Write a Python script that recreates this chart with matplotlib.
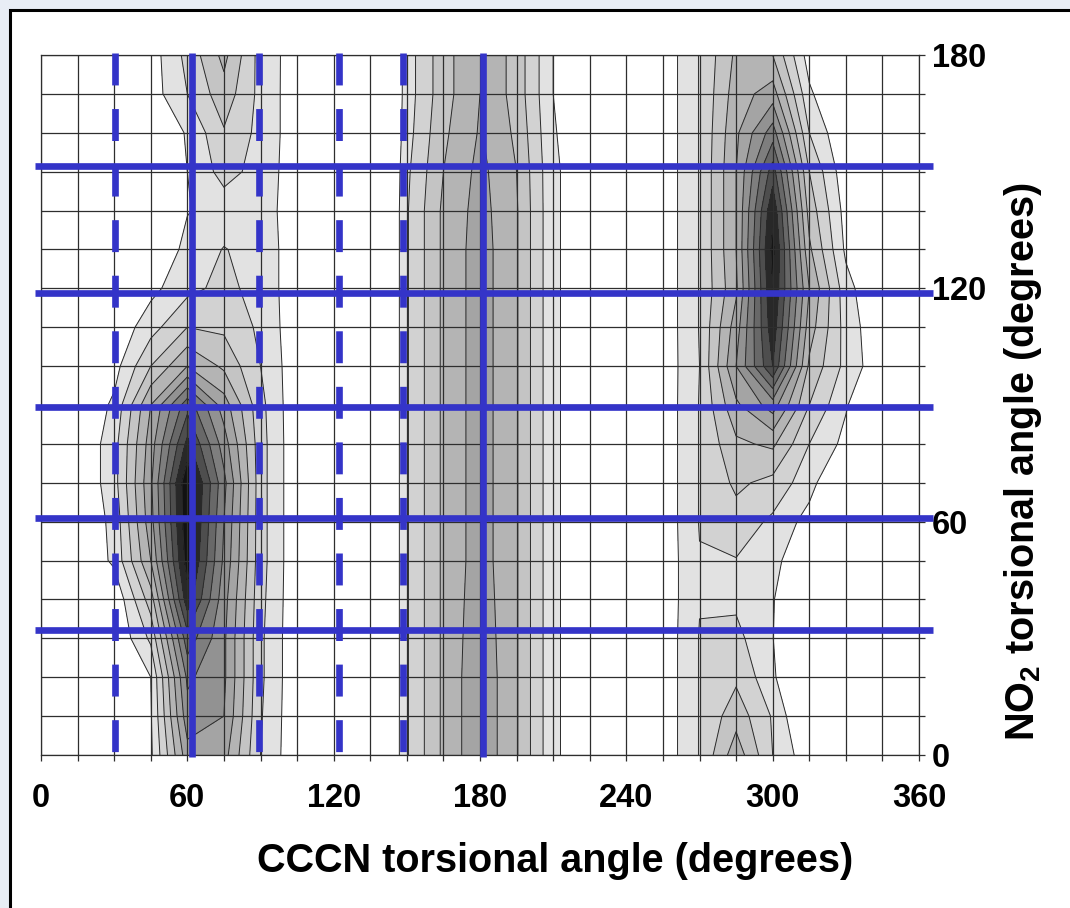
"""
CCCN / NO2 torsional angle population map, redrawn as a grey contour chart
with the blue guide lines laid over it.
"""

import matplotlib
matplotlib.use("Agg")
import matplotlib.pyplot as plt
from matplotlib.patches import Rectangle

plt.rcParams["font.family"] = ["Liberation Sans", "DejaVu Sans"]
plt.rcParams["font.weight"] = "bold"
plt.rcParams["mathtext.default"] = "regular"
plt.rcParams["lines.scale_dashes"] = False

FIG_W, FIG_H = 1070, 908

# grid of the sampled angles (CCCN every 15 deg, NO2 every 10 deg)
cccn_deg = [0, 15, 30, 45, 60, 75, 90, 105, 120, 135, 150, 165, 180,
            195, 210, 225, 240, 255, 270, 285, 300, 315, 330, 345, 360]
no2_deg = [0, 10, 20, 30, 40, 50, 60, 70, 80, 90,
           100, 110, 120, 130, 140, 150, 160, 170, 180]

# population level, one row per NO2 angle (0 at bottom)
population = [
    [0, 0, 0, 0.8, 5.6, 5.4, 2.0, 0.2, 0, -2.5, 1.9, 4.2, 5.8, 4.1, 1.2, 0.2, 0, 0.3, 2.05, 4.6, 2.0, 0.3, 0, 0, 0],
    [0, 0, 0, 0.9, 6.6, 6.0, 2.1, 0.2, 0, -2.5, 1.9, 4.2, 5.8, 4.1, 1.2, 0.2, 0, 0.3, 2.05, 3.6, 1.9, -0.5, 0, 0, 0],
    [0, 0, 0, 1.0, 7.2, 6.2, 2.2, 0.2, 0, -2.5, 1.9, 4.2, 5.8, 4.1, 1.2, 0.2, 0, 0.3, 2.05, 2.8, 1.3, -2, 0, 0, 0],
    [0, 0, 0, 2.2, 8.6, 6.2, 2.2, 0.2, 0, -2.5, 1.9, 4.2, 5.7, 4.1, 1.2, 0.2, 0, 0.3, 2.05, 2.3, 1.05, -2, 0, 0, 0],
    [0, 0, 0.1, 3.5, 10.6, 6.4, 2.3, 0.2, 0, -2.5, 1.9, 4.2, 5.6, 4.1, 1.2, 0.2, 0, 0.3, 1.95, 1.8, 1.15, -2, 0, 0, 0],
    [0, 0, 1.2, 5.0, 11.5, 6.8, 2.4, 0.2, 0, -2.5, 1.9, 4.2, 5.5, 4.1, 1.2, 0.2, 0, 0.3, 1.95, 1.95, 1.5, -0.5, 0, 0, 0],
    [0, 0, 1.3, 5.6, 11.8, 7.0, 2.4, 0.2, 0, -2.5, 1.9, 4.2, 5.5, 4.1, 1.2, 0.2, 0, 0.3, 2.05, 2.6, 1.8, 0.6, 0, 0, 0],
    [0, 0, 1.6, 5.8, 11.9, 7.3, 2.4, 0.2, 0, -2.5, 1.9, 4.2, 5.5, 4.1, 1.2, 0.2, 0, 0.3, 2.05, 3.2, 2.7, 1.4, -0.5, 0, 0],
    [0, 0, 1.6, 5.5, 10.3, 6.5, 2.4, 0.2, 0, -2.5, 1.9, 4.2, 5.5, 4.1, 1.2, 0.2, 0, 0.3, 2.05, 3.8, 4.2, 2.0, 0.7, 0, 0],
    [0, 0, 1.2, 5.0, 8.6, 5.5, 2.3, 0.2, 0, -2.5, 1.9, 4.2, 5.5, 4.1, 1.2, 0.2, 0, 0.3, 2.05, 4.8, 6.5, 3.0, 1.1, -0.5, 0],
    [0, 0, 0.6, 3.0, 5.0, 3.8, 2.0, 0.3, 0, -2.5, 1.9, 4.2, 5.5, 4.1, 1.2, 0.2, 0, 0.3, 2.0, 6.0, 10.0, 3.8, 1.7, 0.2, 0],
    [0, 0, 0.2, 1.6, 3.0, 2.8, 1.8, 0.3, 0, -2.5, 1.9, 4.2, 5.5, 4.1, 1.2, 0.2, 0, 0.3, 2.05, 5.5, 10.6, 4.5, 1.6, 0.1, 0],
    [0, 0, 0, 0.7, 1.7, 2.3, 1.6, 0.4, 0, -2.5, 1.9, 4.2, 5.5, 4.1, 1.2, 0.2, 0, 0.3, 2.05, 4.8, 11.0, 5.0, 1.4, -0.2, 0],
    [0, 0, 0, 0, 1.3, 2.05, 1.6, 0.4, 0, -2.5, 1.9, 4.2, 5.5, 4.1, 1.2, 0.2, 0, 0.3, 2.05, 5.0, 11.3, 4.2, 0.8, -1, 0],
    [0, 0, 0, 0, 0.95, 1.4, 1.5, 0.4, 0, -2.5, 1.9, 4.2, 5.4, 4.1, 1.2, 0.2, 0, 0.3, 2.05, 5.0, 10.8, 3.6, 0.6, -1, 0],
    [0, 0, 0, 0, 1.0, 2.4, 1.6, 0.4, 0, -2.5, 1.8, 4.0, 5.3, 4.0, 1.2, 0.2, 0, 0.3, 2.05, 5.0, 9.5, 3.0, 0.3, -1, 0],
    [0, 0, 0, 0, 1.1, 2.9, 1.7, 0.4, 0, -2.5, 1.6, 3.8, 5.1, 3.8, 1.1, 0.1, 0, 0.3, 2.05, 4.8, 7.5, 2.0, 0.0, -1, 0],
    [0, 0, 0, 0.5, 2.0, 3.6, 1.7, 0.4, 0, -2.5, 1.5, 3.6, 5.0, 3.6, 1.0, 0.0, 0, 0.3, 2.05, 4.5, 5.5, 1.2, -0.5, -1, 0],
    [0, 0, 0, 0.5, 2.3, 4.3, 1.6, 0.5, 0, -2.5, 1.5, 3.6, 5.0, 3.6, 1.0, 0.0, 0, 0.3, 2.05, 4.2, 4.0, 0.5, -0.5, -1, 0],
]

contour_levels = [1, 2, 3, 4, 5, 6, 7, 8, 9, 10, 11]
# fill of each band, from below level 1 (white) to above level 11
band_greys = ["#ffffff", "#e2e2e2", "#d2d2d2", "#c4c4c4", "#b4b4b4", "#a4a4a4",
              "#929292", "#7e7e7e", "#686868", "#4e4e4e", "#282828", "#121212"]

x_label_ticks = [0, 60, 120, 180, 240, 300, 360]
y_label_ticks = [0, 60, 120, 180]

# blue guide lines drawn over the map
guide_h = [32.1, 60.9, 89.5, 118.7, 151.5]
guide_v_solid = [61.9, 181.1]
guide_v_dashed = [30.3, 89.3, 122.1, 148.5]

BLUE = "#3434c8"
GRID = "#2e2e2e"


def px_x(p):
    return p / FIG_W


def px_y(p):
    return 1 - p / FIG_H


fig = plt.figure(figsize=(FIG_W / 100, FIG_H / 100), dpi=100, facecolor="#e8edf5")

# white panel with the black frame round it
frame = Rectangle((px_x(10), -0.02), 1.05, px_y(10) + 0.02, transform=fig.transFigure,
                  facecolor="white", edgecolor="black", linewidth=2.2, zorder=0)
fig.add_artist(frame)

ax = fig.add_axes([px_x(41), px_y(755), px_x(878), 700 / FIG_H])

fill_levels = [-10] + contour_levels + [20]
ax.contourf(cccn_deg, no2_deg, population, levels=fill_levels, colors=band_greys, zorder=1)
ax.contour(cccn_deg, no2_deg, population, levels=contour_levels, colors="#2a2a2a",
           linewidths=0.7, zorder=2)

ax.set_xlim(0, 360)
ax.set_ylim(0, 180)

ax.set_xticks(x_label_ticks)
ax.set_xticks(cccn_deg, minor=True)
ax.set_yticks(y_label_ticks)
ax.set_yticks(no2_deg, minor=True)
ax.yaxis.tick_right()

ax.set_axisbelow(False)
ax.grid(which="both", color=GRID, linewidth=0.9)
ax.tick_params(which="both", direction="out", length=4, width=0.9, color=GRID,
               bottom=True, right=True, left=False, top=False,
               labelright=True, labelleft=False)
ax.tick_params(axis="x", pad=16, labelsize=23.5)
ax.tick_params(axis="y", pad=5, labelsize=23.5)
for sp in ax.spines.values():
    sp.set_color(GRID)
    sp.set_linewidth(0.9)

# guide lines (run a little past the plot edges, as in the original)
for y in guide_h:
    ax.plot([-2.5, 365.6], [y, y], color=BLUE, linewidth=4.8, solid_capstyle="butt",
            clip_on=False, zorder=5)
for x in guide_v_solid:
    ax.plot([x, x], [180.6, -0.6], color=BLUE, linewidth=4.8, solid_capstyle="butt",
            clip_on=False, zorder=5)
for x in guide_v_dashed:
    ax.plot([x, x], [180.6, -0.6], color=BLUE, linewidth=4.8, linestyle=(0, (23, 17)),
            dash_capstyle="butt", clip_on=False, zorder=5)

fig.text(px_x(555), px_y(872), "CCCN torsional angle (degrees)", ha="center", va="baseline",
         fontsize=28.5, fontweight="bold")
fig.text(px_x(1023), px_y(462), "NO$_2$ torsional angle (degrees)", rotation=90,
         ha="center", va="center", fontsize=28.5, fontweight="bold")

fig.savefig("out.png", dpi=100, facecolor=fig.get_facecolor())
